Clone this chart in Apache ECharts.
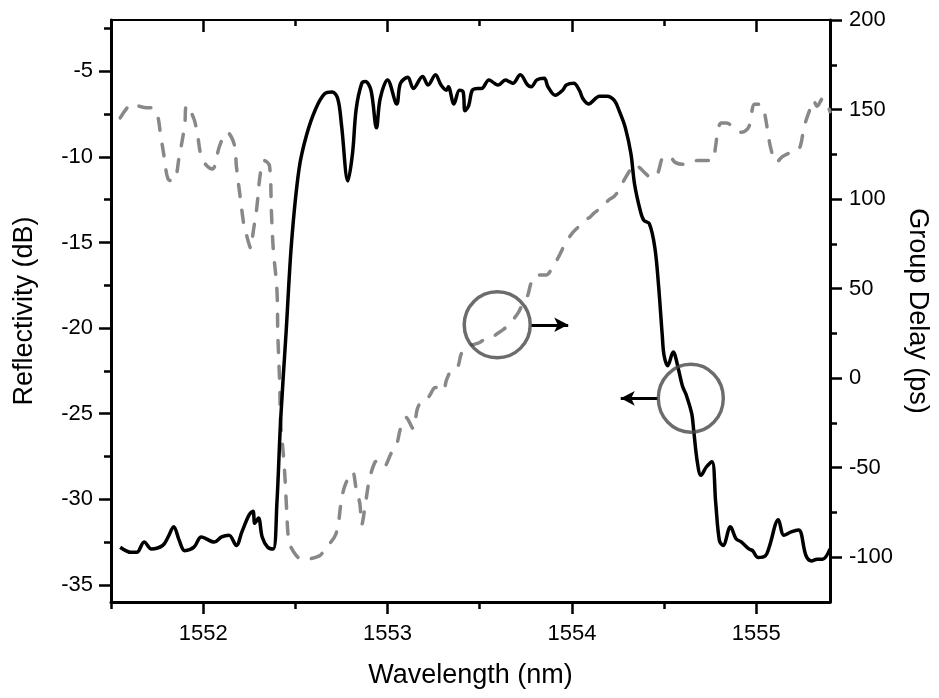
<!DOCTYPE html>
<html>
<head>
<meta charset="utf-8">
<script src="https://cdn.jsdelivr.net/npm/echarts@6/dist/echarts.min.js"></script>
<style>
    html, body { margin: 0; padding: 0; background: #fff; }
    #container { width: 939px; height: 698px; }
</style>
</head>
<body>
<div id="container"></div>
<script>
    // reflectivity (black, left axis)
    let reflWl = [1551.55, 1551.61, 1551.64, 1551.68, 1551.72, 1551.78, 1551.81, 1551.84, 1551.87, 1551.90,
        1551.95, 1551.99, 1552.06, 1552.10, 1552.14, 1552.18, 1552.21, 1552.25, 1552.27, 1552.28,
        1552.30, 1552.32, 1552.35, 1552.38, 1552.40, 1552.42, 1552.45, 1552.48, 1552.52, 1552.56,
        1552.61, 1552.66, 1552.70, 1552.73, 1552.75, 1552.785, 1552.81, 1552.83, 1552.86, 1552.88,
        1552.91, 1552.94, 1552.96, 1553.00, 1553.05, 1553.07, 1553.11, 1553.14, 1553.19, 1553.22,
        1553.26, 1553.29, 1553.32, 1553.33, 1553.36, 1553.39, 1553.41, 1553.42, 1553.44, 1553.46,
        1553.49, 1553.51, 1553.55, 1553.58, 1553.60, 1553.64, 1553.66, 1553.68, 1553.72, 1553.76,
        1553.78, 1553.81, 1553.85, 1553.87, 1553.91, 1553.95, 1553.97, 1554.01, 1554.04, 1554.06,
        1554.09, 1554.15, 1554.19, 1554.23, 1554.26, 1554.29, 1554.32, 1554.34, 1554.37, 1554.39,
        1554.42, 1554.45, 1554.47, 1554.49, 1554.50, 1554.52, 1554.55, 1554.56, 1554.58, 1554.60,
        1554.62, 1554.65, 1554.66, 1554.68, 1554.70, 1554.73, 1554.76, 1554.78, 1554.80, 1554.82,
        1554.86, 1554.89, 1554.92, 1554.96, 1554.98, 1555.01, 1555.05, 1555.07, 1555.12, 1555.15,
        1555.19, 1555.23, 1555.27, 1555.30, 1555.33, 1555.36, 1555.40];
    let reflDb = [-32.8, -33.1, -33.1, -32.5, -32.9, -32.7, -32.2, -31.6, -32.4, -33.0,
        -32.8, -32.2, -32.5, -32.2, -32.1, -32.7, -31.9, -30.9, -30.7, -31.4,
        -31.1, -32.2, -32.8, -32.9, -30.2, -25.4, -20.2, -14.9, -10.7, -8.75,
        -7.2, -6.3, -6.2, -6.6, -8.1, -11.4, -9.8, -7.2, -5.7, -5.6,
        -6.1, -8.3, -6.6, -5.5, -6.9, -5.7, -5.35, -6.0, -5.3, -5.8,
        -5.2, -5.8, -6.1, -5.9, -6.9, -6.1, -6.2, -7.3, -7.0, -6.1,
        -6.0, -6.0, -5.5, -5.7, -5.8, -5.5, -5.6, -5.7, -5.2, -5.8,
        -5.9, -5.5, -5.4, -5.9, -6.4, -6.1, -5.8, -5.7, -6.1, -6.6,
        -6.9, -6.45, -6.45, -6.7, -7.4, -8.3, -9.8, -11.6, -13.1, -13.7,
        -13.9, -15.3, -17.5, -20.4, -21.6, -22.2, -21.4, -21.6, -22.5, -23.4,
        -23.9, -25.0, -25.9, -27.8, -28.6, -28.1, -27.8, -30.2, -32.4, -32.7,
        -31.6, -32.3, -32.5, -32.9, -33.0, -33.4, -33.3, -32.8, -31.2, -32.1,
        -31.9, -31.8, -33.3, -33.6, -33.5, -33.5, -32.9];

    // group delay (grey dashed, right axis)
    let delayWl = [1551.55, 1551.58, 1551.61, 1551.69, 1551.72, 1551.75, 1551.77, 1551.79, 1551.81, 1551.84,
        1551.87, 1551.90, 1551.91, 1551.95, 1551.97, 1551.99, 1552.02, 1552.05, 1552.09, 1552.13,
        1552.17, 1552.18, 1552.20, 1552.22, 1552.23, 1552.26, 1552.27, 1552.29, 1552.31, 1552.33,
        1552.36, 1552.37, 1552.38, 1552.40, 1552.405, 1552.415, 1552.42, 1552.44, 1552.45, 1552.46,
        1552.47, 1552.54, 1552.63, 1552.66, 1552.72, 1552.75, 1552.77, 1552.81, 1552.83, 1552.85,
        1552.86, 1552.88, 1552.90, 1552.93, 1552.95, 1552.98, 1553.02, 1553.05, 1553.07, 1553.10,
        1553.14, 1553.16, 1553.18, 1553.21, 1553.23, 1553.26, 1553.30, 1553.32, 1553.35, 1553.38,
        1553.40, 1553.43, 1553.47, 1553.50, 1553.53, 1553.57, 1553.60, 1553.63, 1553.66, 1553.68,
        1553.71, 1553.73, 1553.76, 1553.78, 1553.81, 1553.84, 1553.86, 1553.90, 1553.93, 1553.96,
        1554.00, 1554.04, 1554.07, 1554.10, 1554.12, 1554.16, 1554.20, 1554.23, 1554.26, 1554.28,
        1554.31, 1554.34, 1554.37, 1554.40, 1554.43, 1554.46, 1554.50, 1554.53, 1554.56, 1554.60,
        1554.64, 1554.68, 1554.71, 1554.76, 1554.78, 1554.79, 1554.81, 1554.84, 1554.87, 1554.89,
        1554.92, 1554.96, 1554.99, 1555.02, 1555.04, 1555.06, 1555.08, 1555.11, 1555.14, 1555.18,
        1555.22, 1555.24, 1555.26, 1555.29, 1555.31, 1555.33, 1555.36, 1555.40];
    let delayPs = [145.3, 149.9, 153.0, 151.0, 151.0, 147.4, 135.2, 122.6, 111.1, 110.1,
        123.7, 141.5, 152.4, 144.7, 135.2, 123.7, 118.5, 116.8, 130.0, 137.3,
        130.0, 118.5, 101.7, 86.0, 81.8, 72.4, 80.7, 94.4, 114.2, 121.6,
        118.5, 93.3, 72.4, 49.3, 24.1, -2.9, -24.1, -49.3, -68.1, -87.0,
        -93.3, -101.3, -99.2, -95.4, -87.0, -68.1, -59.7, -52.4, -61.8, -70.2,
        -81.8, -70.2, -57.6, -47.2, -46.1, -49.3, -41.9, -36.7, -28.3, -22.0,
        -28.3, -17.8, -13.6, -12.6, -9.4, -5.2, -7.3, -1.0, 5.2, 6.3,
        13.6, 17.8, 18.9, 19.9, 22.0, 23.1, 25.2, 27.3, 30.4, 32.5,
        36.7, 40.9, 46.1, 53.5, 57.6, 57.6, 57.6, 62.9, 68.1, 74.4,
        80.7, 84.9, 88.0, 90.1, 92.2, 95.3, 99.5, 101.6, 105.8, 110.0,
        115.3, 119.4, 117.3, 114.2, 112.1, 113.2, 123.6, 123.6, 120.5, 119.4,
        120.5, 121.5, 121.5, 121.5, 129.9, 137.3, 142.5, 142.5, 140.4, 138.3,
        137.3, 140.4, 153.0, 153.0, 149.8, 139.4, 127.8, 120.5, 123.6, 125.7,
        126.8, 129.9, 140.4, 149.8, 155.1, 151.9, 156.1, 148.8];

    // tick values
    let xMajor = [1552, 1553, 1554, 1555];
    let xMinor = [1551.5, 1552.5, 1553.5, 1554.5];
    let leftMajor = [-35, -30, -25, -20, -15, -10, -5];
    let leftMinor = [-32.5, -27.5, -22.5, -17.5, -12.5, -7.5, -2.5];
    let rightMajor = [-100, -50, 0, 50, 100, 150, 200];
    let rightMinor = [-75, -25, 25, 75, 125, 175];

    // annotations: circle + arrow, in data units
    let circleDelay = [1553.595, 29.8];
    let arrowDelay = [[1553.78, 29.8], [1553.98, 29.8]];
    let circleRefl = [1554.645, -24.1];
    let arrowRefl = [[1554.465, -24.1], [1554.265, -24.1]];

    let font = 'Liberation Sans, Arial, sans-serif';

    function pairs(xs, ys) {
        let out = [];
        for (let i = 0; i < xs.length; i++) {
            out.push([xs[i], ys[i]]);
        }
        return out;
    }

    // plain numbers, no thousands separator
    function plain(v) {
        return String(v);
    }

    // one axis = line + ticks (+ labels); minor ticks go on a twin axis
    function xAxisOf(pos, ticks, len, inside, withLine, lineW) {
        return {
            type: 'value', position: pos, min: 1551.5, max: 1555.4,
            axisLine: { show: withLine, onZero: false, lineStyle: { color: '#000', width: lineW } },
            axisTick: { show: true, inside: inside, length: len, customValues: ticks, lineStyle: { color: '#000', width: 2.5 } },
            axisLabel: { show: false },
            splitLine: { show: false }
        };
    }

    function yAxisOf(pos, min, max, ticks, len, withLine) {
        return {
            type: 'value', position: pos, min: min, max: max,
            axisLine: { show: withLine, onZero: false, lineStyle: { color: '#000', width: 3 } },
            axisTick: { show: true, inside: false, length: len, customValues: ticks, lineStyle: { color: '#000', width: 2.5 } },
            axisLabel: { show: false },
            splitLine: { show: false }
        };
    }

    function labelOf(values, margin) {
        return { show: true, customValues: values, margin: margin, fontSize: 22, color: '#000', fontFamily: font, formatter: plain };
    }

    function getCharts() {
        let dom = document.getElementById('container');
        let myChart = echarts.init(dom, null, { renderer: 'canvas' });
        let titleStyle = { fontSize: 27, color: '#000', fontFamily: font };

        let xBottom = xAxisOf('bottom', xMajor, 12, false, true, 3);
        xBottom.axisLabel = labelOf(xMajor, 21);
        xBottom.name = 'Wavelength (nm)';
        xBottom.nameLocation = 'middle';
        xBottom.nameGap = 60;
        xBottom.nameTextStyle = titleStyle;

        let yLeft = yAxisOf('left', -36, -2, leftMajor, 12, true);
        yLeft.axisLabel = labelOf(leftMajor, 18);
        yLeft.name = 'Reflectivity (dB)';
        yLeft.nameLocation = 'middle';
        yLeft.nameGap = 73;
        yLeft.nameTextStyle = titleStyle;

        let yRight = yAxisOf('right', -125, 200, rightMajor, 12, true);
        yRight.axisLabel = labelOf(rightMajor, 19);
        yRight.name = 'Group Delay (ps)';
        yRight.nameLocation = 'middle';
        yRight.nameRotate = -90;
        yRight.nameGap = 74;
        yRight.nameTextStyle = titleStyle;

        let arrowLine = {
            silent: true,
            symbol: ['none', 'arrow'],
            symbolSize: [11, 14],
            label: { show: false },
            lineStyle: { color: '#000', width: 3, type: 'solid' }
        };

        let option = {
            animation: false,
            backgroundColor: '#fff',
            grid: { left: 111, right: 109, top: 20, bottom: 96, containLabel: false, outerBoundsMode: 'none' },
            xAxis: [
                xBottom,
                xAxisOf('bottom', xMinor, 7, false, false, 3),
                xAxisOf('top', xMajor, 12, true, true, 2),
                xAxisOf('top', xMinor, 6, true, false, 2)
            ],
            yAxis: [
                yLeft,
                yAxisOf('left', -36, -2, leftMinor, 7, false),
                yRight,
                yAxisOf('right', -125, 200, rightMinor, 7, false)
            ],
            series: [{
                name: 'Group Delay',
                type: 'line',
                xAxisIndex: 0,
                yAxisIndex: 2,
                data: pairs(delayWl, delayPs),
                symbol: 'none',
                smooth: 0.35,
                lineStyle: { color: '#888', width: 3.5, type: [12, 14], cap: 'round', join: 'round' },
                z: 2,
                markLine: Object.assign({ data: [[{ coord: arrowDelay[0] }, { coord: arrowDelay[1] }]] }, arrowLine)
            }, {
                name: 'Reflectivity',
                type: 'line',
                xAxisIndex: 0,
                yAxisIndex: 0,
                data: pairs(reflWl, reflDb),
                symbol: 'none',
                smooth: 0.35,
                lineStyle: { color: '#000', width: 3.5, join: 'round' },
                z: 3,
                markLine: Object.assign({ data: [[{ coord: arrowRefl[0] }, { coord: arrowRefl[1] }]] }, arrowLine)
            }, {
                type: 'scatter',
                xAxisIndex: 0,
                yAxisIndex: 2,
                data: [circleDelay],
                symbol: 'circle',
                symbolSize: 66,
                silent: true,
                itemStyle: { color: 'rgba(0,0,0,0)', borderColor: '#474747', borderWidth: 3.5 },
                z: 5
            }, {
                type: 'scatter',
                xAxisIndex: 0,
                yAxisIndex: 0,
                data: [circleRefl],
                symbol: 'circle',
                symbolSize: [65, 68],
                silent: true,
                itemStyle: { color: 'rgba(0,0,0,0)', borderColor: '#474747', borderWidth: 3.5 },
                z: 5
            }]
        };
        myChart.setOption(option, true);
    }

    getCharts();
</script>
</body>
</html>
